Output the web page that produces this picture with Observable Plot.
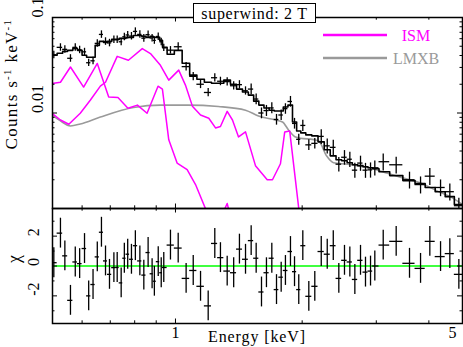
<!DOCTYPE html>
<html><head><meta charset="utf-8">
<script src="https://cdn.jsdelivr.net/npm/d3@7"></script>
<script src="https://cdn.jsdelivr.net/npm/@observablehq/plot@0.6"></script>
<style>
body{margin:0;background:#fff;}
#wrap{position:relative;width:463px;height:347px;overflow:hidden;font-family:"Liberation Serif",serif;background:#fff;}
#top,#bot,#legend{position:absolute;left:0;}
#top{top:0}
#bot{top:207px}
#title{position:absolute;left:193px;top:3px;width:121px;height:18px;border:1px solid #000;background:#fff;text-align:center;font-size:16px;line-height:19px;letter-spacing:0.7px;color:#000;}
svg text{font-family:"Liberation Serif",serif;}
</style>
</head><body>
<div id="wrap"><div id="top"></div><div id="bot"></div><div id="legend"></div><div id="title">superwind: 2 T</div></div>
<script>
// ---- data ----
const energy = [0.514,0.533,0.546,0.563,0.578,0.592,0.608,0.622,0.637,0.652,0.667,0.682,0.697,0.714,0.727,
 0.743,0.756,0.770,0.786,0.803,0.823,0.841,0.861,0.880,0.891,0.910,0.925,0.938,0.973,
 1.015,1.060,1.102,1.147,1.196,1.240,1.279,1.327,1.375,1.419,1.467,
 1.513,1.555,1.601,1.645,1.694,1.738,1.783,1.825,1.876,1.918,1.963,2.007,2.074,2.143,
 2.220,2.294,2.371,2.444,2.521,2.596,2.668,2.752,2.828,2.907,2.976,
 3.116,3.345,3.598,3.822,4.021,4.264,4.486,4.713];
const counts = [0.0407,0.0487,0.0464,0.0374,0.0487,0.0459,0.0437,0.0336,0.0352,0.0536,0.0665,0.0562,0.0542,0.0586,0.0586,
 0.0557,0.0628,0.0656,0.0639,0.0715,0.0665,0.0607,0.0661,0.0610,0.0576,0.0633,0.0557,0.0483,0.0455,
 0.0494,0.0306,0.0242,0.0200,0.0164,0.0234,0.0215,0.0213,0.0193,0.0198,0.0171,
 0.0178,0.0140,0.0100,0.0106,0.0113,0.00856,0.00953,0.0111,0.0132,0.00778,0.00530,0.00741,0.00464,0.00481,
 0.00569,0.00453,0.00437,0.00291,0.00344,0.00328,0.00252,0.00299,0.00252,0.00254,0.00267,
 0.00309,0.00287,0.00200,0.00178,0.00218,0.00166,0.00150,0.00107];
const countErr = [0.0037,0.0044,0.0042,0.0034,0.0044,0.0041,0.0039,0.0030,0.0032,0.0048,0.0060,0.0051,0.0049,0.0053,0.0053,
 0.0050,0.0057,0.0059,0.0058,0.0064,0.0060,0.0055,0.0059,0.0055,0.0052,0.0057,0.0050,0.0043,0.0041,
 0.0049,0.0031,0.0024,0.0020,0.0016,0.0023,0.0022,0.0021,0.0019,0.0020,0.0017,
 0.0023,0.0018,0.0013,0.0014,0.0015,0.0011,0.0012,0.0014,0.0017,0.0010,0.0007,0.0010,0.0006,0.0006,
 0.0010,0.0008,0.0008,0.0005,0.0006,0.0006,0.00045,0.00054,0.00045,0.00046,0.00048,
 0.00062,0.00057,0.0004,0.00036,0.00044,0.00033,0.0003,0.00021];
const model = [0.0402,0.0422,0.0442,0.0453,0.0475,0.0453,0.0402,0.0383,0.0383,0.0511,0.0562,0.0549,0.0562,0.0590,0.0590,
 0.0604,0.0604,0.0619,0.0619,0.0649,0.0649,0.0634,0.0619,0.0634,0.0619,0.0619,0.0576,0.0487,0.0412,
 0.0453,0.0332,0.0249,0.0226,0.0210,0.0205,0.0205,0.0221,0.0200,0.0178,0.0166,
 0.0154,0.0133,0.0121,0.0113,0.0107,0.0105,0.0105,0.01155,0.0121,0.00806,0.00649,0.00619,0.00590,0.00576,
 0.00499,0.00412,0.00356,0.00324,0.00316,0.00301,0.00287,0.00281,0.00274,0.00267,0.00261,
 0.00243,0.00221,0.00196,0.00182,0.00166,0.00150,0.00133,0.00110];
const chi = [0.22,2.2,0.68,-2.3,0.27,0.16,1.17,-2.0,-1.24,0.61,2.26,0.34,-0.56,-0.11,-0.1,
 -1.13,0.52,0.79,0.45,1.36,0.34,-0.61,0.9,-0.52,-1.02,0.29,-0.45,-0.1,1.4,
 1.2,-0.83,-0.3,-1.36,-2.67,1.51,0.56,-0.34,-0.45,1.13,0.45,
 1.7,0.52,-1.74,-0.45,0.52,-1.58,-0.75,-0.3,0.97,-0.38,-1.58,1.36,-2.03,-1.36,
 0.97,0.79,1.36,-0.83,0.38,0.27,-0.9,0.38,-0.41,-0.34,0,
 1.4,1.65,0.18,-0.16,1.65,0.63,0.83,-0.56];

const lmxbE = [0.509,0.533,0.563,0.594,0.663,0.795,0.921,1.068,1.265,1.467,1.575,1.729,1.796,1.856,1.929,2.187,2.285,2.374,2.563,2.907,3.19,3.483,3.822,4.194,4.578,4.81];
const lmxbC = [0.00953,0.00826,0.00732,0.00768,0.00908,0.0114,0.0121,0.0121,0.0117,0.0107,0.0093,0.00845,0.00806,0.00665,0.00562,0.00511,0.00356,0.00301,0.00291,0.00264,0.00234,0.00208,0.00185,0.00152,0.00127,0.00110];

const ismAE = [0.509,0.533,0.563,0.605,0.652,0.694,0.730,0.771,0.812,0.856,0.909,0.931,0.964,1.009,1.066,1.116,1.178,1.245,1.327,1.374];
const ismAC = [0.0204,0.0210,0.0303,0.0187,0.0330,0.0147,0.0145,0.0112,0.0121,0.00993,0.0191,0.0178,0.00524,0.00299,0.00255,0.00178,0.00100,0.0006,0.00113,0.0006];

const ismBE = [0.509,0.533,0.558,0.594,0.628,0.663,0.682,0.727,0.773,0.834,0.872,0.921,0.964,1.018,1.056,1.097,1.147,1.200,1.245,1.279,1.327,1.366,1.412,1.467,1.549,1.652,1.700,1.776,1.818,1.868,1.963,2.0];
const ismBC = [0.00993,0.00845,0.00762,0.00993,0.0137,0.0191,0.0210,0.0392,0.0357,0.0472,0.0419,0.0316,0.0221,0.0281,0.0196,0.0118,0.00953,0.00881,0.00698,0.00723,0.0104,0.00845,0.00562,0.00634,0.00281,0.00200,0.00200,0.00294,0.00634,0.00649,0.00100,0.0006];

const xMajor = [1];
const xMinor = [0.6,0.7,0.8,0.9,2,3,4];
const xTickLabels = ["1"];
const xEdgeLabel = "5";
const yTopMajor = [0.01,0.1];
const yTopLabels = ["0.01","0.1"];
const yTopMinor = [0.002,0.003,0.004,0.005,0.006,0.007,0.008,0.009,0.02,0.03,0.04,0.05,0.06,0.07,0.08,0.09];
const yBotMajor = [-2,0,2];
const yBotLabels = ["-2","0","2"];
const yBotMinor = [-3,-1,1,3];
const legendLabels = ["ISM","LMXB"];
const legendColors = ["#ff00ff","#9a9a9a"];

// ---- build records ----
const n = energy.length;
const bins = energy.map((e,i)=>{
  const lo = i>0 ? Math.sqrt(energy[i-1]*e) : e*e/Math.sqrt(e*energy[1]);
  const hi = i<n-1 ? Math.sqrt(e*energy[i+1]) : e*e/Math.sqrt(energy[n-2]*e);
  return {e, lo, hi, c:counts[i], err:countErr[i], m:model[i], chi:chi[i]};
});
const modelLine = [{e:bins[0].lo, m:model[0]}, ...bins, {e:bins[n-1].hi, m:model[n-1]}];
const lmxb = lmxbE.map((e,i)=>({e, c:lmxbC[i]}));
const ismA = ismAE.map((e,i)=>({e, c:ismAC[i]}));
const ismB = ismBE.map((e,i)=>({e, c:ismBC[i]}));

const W=463, ML=52, MR=1;
const PW = W-ML-MR;
const xDomain=[0.5103,4.808];
const FONT = "Liberation Serif";
const fw = 1.5;

function yTickMarks(vals, len){ return [
  Plot.tickY(vals,{y:d=>d, insetRight:PW-len, stroke:"#000", strokeWidth:1}),
  Plot.tickY(vals,{y:d=>d, insetLeft:PW-len, stroke:"#000", strokeWidth:1})]; }
function xTickMarks(vals, len, PH){ return [
  Plot.tickX(vals,{x:d=>d, insetTop:PH-len, stroke:"#000", strokeWidth:1}),
  Plot.tickX(vals,{x:d=>d, insetBottom:PH-len, stroke:"#000", strokeWidth:1})]; }

// ---- top panel ----
const topH = 209, topMT = 17, topMB = 1;
const topPH = topH-topMT-topMB;
const topPlot = Plot.plot({
  width:W, height:topH, marginLeft:ML, marginRight:MR, marginTop:topMT, marginBottom:topMB,
  x:{type:"log", domain:xDomain, axis:null},
  y:{type:"log", domain:[0.001,0.1], axis:null},
  style:{fontFamily:FONT, fontSize:"16px", background:"transparent", overflow:"visible"},
  marks:[
    Plot.line(lmxb,{x:"e", y:"c", stroke:legendColors[1], strokeWidth:1.6, curve:"monotone-x", clip:true}),
    Plot.line(ismA,{x:"e", y:"c", stroke:legendColors[0], strokeWidth:1.5, clip:true}),
    Plot.line(ismB,{x:"e", y:"c", stroke:legendColors[0], strokeWidth:1.5, clip:true}),
    Plot.line(modelLine,{x:"e", y:"m", curve:"step", stroke:"#000", strokeWidth:1.6, clip:true}),
    Plot.ruleX(bins,{x:"e", y1:d=>Math.max(d.c-d.err,1e-4), y2:d=>d.c+d.err, stroke:"#000", strokeWidth:1.3, clip:true}),
    Plot.ruleY(bins,{y:"c", x1:"lo", x2:"hi", stroke:"#000", strokeWidth:1.3, clip:true}),
    ...yTickMarks(yTopMajor,5), ...yTickMarks(yTopMinor,2.5),
    ...xTickMarks(xMajor,4.5,topPH), ...xTickMarks(xMinor,2.7,topPH),
    Plot.frame({stroke:"#000", strokeWidth:fw}),
    Plot.text(yTopMajor,{y:d=>d, text:(d,i)=>yTopLabels[i], frameAnchor:"left", dx:-15, rotate:-90, fontSize:16, fontFamily:FONT, fill:"#000"})
  ]
});
document.getElementById("top").appendChild(topPlot);
{
  const svg = d3.select(topPlot);
  const t = svg.append("text").attr("transform","translate(17,84) rotate(-90)")
    .attr("text-anchor","middle").attr("font-family",FONT).attr("font-size",17).attr("fill","#000").attr("letter-spacing",1.3);
  t.append("tspan").text("Counts s");
  t.append("tspan").attr("dy",-6).attr("font-size",11).text("-1");
  t.append("tspan").attr("dy",6).text(" keV");
  t.append("tspan").attr("dy",-6).attr("font-size",11).text("-1");
}

// ---- bottom panel ----
const botH = 140, botMT = 1, botMB = 24;
const botPH = botH-botMT-botMB;
const botPlot = Plot.plot({
  width:W, height:botH, marginLeft:ML, marginRight:MR, marginTop:botMT, marginBottom:botMB,
  x:{type:"log", domain:xDomain, axis:null},
  y:{domain:[-3.85,3.85], axis:null},
  style:{fontFamily:FONT, fontSize:"16px", background:"transparent", overflow:"visible"},
  marks:[
    Plot.ruleY([0],{stroke:"#00ff00", strokeWidth:1.6}),
    Plot.ruleX(bins,{x:"e", y1:d=>d.chi-1, y2:d=>d.chi+1, stroke:"#000", strokeWidth:1.3, clip:true}),
    Plot.ruleY(bins,{y:"chi", x1:"lo", x2:"hi", stroke:"#000", strokeWidth:1.3, clip:true}),
    ...yTickMarks(yBotMajor,5), ...yTickMarks(yBotMinor,2.5),
    ...xTickMarks(xMajor,4.5,botPH), ...xTickMarks(xMinor,2.7,botPH),
    Plot.frame({stroke:"#000", strokeWidth:fw}),
    Plot.text(yBotMajor,{y:d=>d, text:(d,i)=>yBotLabels[i], frameAnchor:"left", dx:-19, rotate:-90, fontSize:16, fontFamily:FONT, fill:"#000"}),
    Plot.text(["\u03c7"],{frameAnchor:"left", dx:-38, dy:-3, rotate:-90, fontSize:18, fontFamily:FONT, fill:"#000"}),
    Plot.text(xMajor,{x:d=>d, text:(d,i)=>xTickLabels[i], frameAnchor:"bottom", dy:14, fontSize:16, fontFamily:FONT, fill:"#000"}),
    Plot.text([xEdgeLabel],{frameAnchor:"bottom-right", dx:-6, dy:14, fontSize:16, fontFamily:FONT, fill:"#000"})
  ]
});
document.getElementById("bot").appendChild(botPlot);
{
  const svg = d3.select(botPlot);
  svg.append("text").attr("x",257).attr("y",135).attr("text-anchor","middle")
    .attr("font-family",FONT).attr("font-size",16).attr("letter-spacing",0.9).attr("fill","#000")
    .text("Energy [keV]");
}

// ---- legend ----
{
  const lg = d3.select("#legend").append("svg").attr("width",W).attr("height",80)
    .style("position","absolute").style("left","0px").style("top","0px");
  const g = lg.selectAll("g").data(legendLabels).join("g")
    .attr("transform",(d,i)=>`translate(0,${35+i*23})`);
  g.append("line").attr("x1",323).attr("x2",387).attr("y1",0).attr("y2",0)
    .attr("stroke",(d,i)=>legendColors[i]).attr("stroke-width",2.5);
  g.append("text").attr("x",416).attr("y",0).attr("dy","0.35em").attr("text-anchor","middle")
    .attr("font-family",FONT).attr("font-size",16).attr("fill",(d,i)=>legendColors[i]).text(d=>d);
}
</script>
</body></html>
